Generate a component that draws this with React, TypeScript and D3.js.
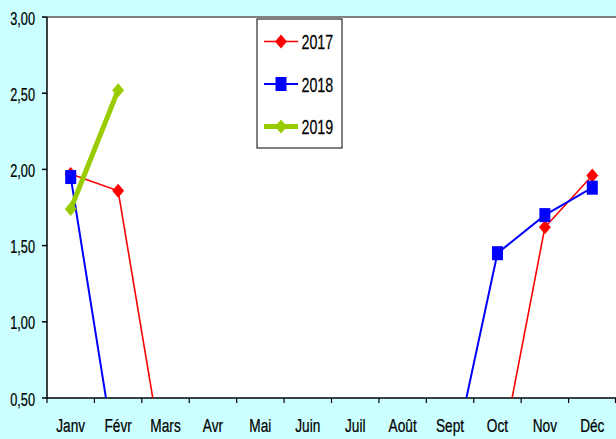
import React from "react";
import * as d3 from "d3";

const months = ["Janv", "Févr", "Mars", "Avr", "Mai", "Juin", "Juil", "Août", "Sept", "Oct", "Nov", "Déc"];
const y2017: (number | null)[] = [1.97, 1.86, 0, 0, 0, 0, 0, 0, 0, 0, 1.62, 1.96];
const y2018: (number | null)[] = [1.95, 0, 0, 0, 0, 0, 0, 0, 0, 1.45, 1.7, 1.88];
const y2019: (number | null)[] = [1.74, 2.52, null, null, null, null, null, null, null, null, null, null];
const yTicks = [0.5, 1.0, 1.5, 2.0, 2.5, 3.0];
const seriesNames = ["2017", "2018", "2019"];

const W = 616, H = 439;
const left = 47, right = 616, top = 17, bottom = 398;
const FONT = "'Liberation Sans', Arial, sans-serif";

const NText = ({ x, y, size, sx, anchor, children }: any) => (
  <text
    transform={`translate(${x},${y}) scale(${sx},1)`}
    textAnchor={anchor}
    fontFamily={FONT}
    fontSize={size}
    fill="#000"
    stroke="#000"
    strokeWidth={0.25}
  >
    {children}
  </text>
);

export default function App() {
  const x = d3.scaleBand<string>().domain(months).range([left, right]).padding(0);
  const y = d3.scaleLinear().domain([0.5, 3]).range([bottom, top]);
  const cx = (i: number) => (x(months[i]) as number) + x.bandwidth() / 2;

  const line = d3
    .line<number | null>()
    .defined((d) => d !== null)
    .x((_, i) => cx(i))
    .y((d) => y(d as number));

  const series = [
    { name: seriesNames[0], data: y2017, color: "#ff0000", width: 1.6, marker: "diamond" },
    { name: seriesNames[1], data: y2018, color: "#0000ff", width: 2, marker: "square" },
    { name: seriesNames[2], data: y2019, color: "#99cc00", width: 5, marker: "diamond2" },
  ];

  const marker = (type: string, px: number, py: number, color: string, key: string | number) => {
    if (type === "square") {
      return <rect key={key} x={px - 5.5} y={py - 7} width={11} height={14} fill={color} />;
    }
    const r = 7;
    return (
      <path
        key={key}
        d={`M${px},${py - r} L${px + r * 0.85},${py} L${px},${py + r} L${px - r * 0.85},${py} Z`}
        fill={color}
      />
    );
  };

  const legendY = [41.5, 84, 126.5];

  return (
    <svg width={W} height={H} style={{ position: "absolute", left: 0, top: 0 }}>
      <rect x={0} y={0} width={W} height={H} fill="#ccffff" />
      <defs>
        <clipPath id="plotclip">
          <rect x={left} y={top - 10} width={right - left} height={bottom - top + 10} />
        </clipPath>
      </defs>
      <rect x={left} y={top} width={right - left} height={bottom - top} fill="#ffffff" />
      <line x1={left} x2={right} y1={top} y2={top} stroke="#808080" strokeWidth={2} />

      {/* y axis */}
      <line x1={left} x2={left} y1={top} y2={bottom} stroke="#000" strokeWidth={1.5} />
      {yTicks.map((t) => (
        <g key={t}>
          <line x1={left - 5} x2={left} y1={y(t)} y2={y(t)} stroke="#000" strokeWidth={1.5} />
          <NText x={35} y={y(t) + 7.5} size={19} sx={0.67} anchor="end">
            {t.toFixed(2).replace(".", ",")}
          </NText>
        </g>
      ))}

      {/* x axis */}
      <line x1={left} x2={right} y1={bottom} y2={bottom} stroke="#000" strokeWidth={1.5} />
      {months.map((m, i) => (
        <g key={m}>
          <line
            x1={x(m) as number}
            x2={x(m) as number}
            y1={bottom}
            y2={bottom + 5}
            stroke="#000"
            strokeWidth={1.2}
          />
          <NText x={cx(i)} y={431.5} size={19} sx={0.72} anchor="middle">
            {m}
          </NText>
        </g>
      ))}
      <line x1={right - 0.5} x2={right - 0.5} y1={bottom} y2={bottom + 5} stroke="#000" strokeWidth={1.2} />

      {/* series */}
      <g clipPath="url(#plotclip)">
        {series.map((s) => (
          <g key={s.name}>
            <path d={line(s.data) || ""} fill="none" stroke={s.color} strokeWidth={s.width} />
            {s.data.map((d, i) => (d === null || d === 0 ? null : marker(s.marker, cx(i), y(d), s.color, i)))}
          </g>
        ))}
      </g>

      {/* legend */}
      <rect x={257} y={19} width={85} height={129} fill="#fff" stroke="#000" strokeWidth={1} />
      {series.map((s, i) => (
        <g key={s.name}>
          <line x1={264} x2={298} y1={legendY[i]} y2={legendY[i]} stroke={s.color} strokeWidth={s.width} />
          {marker(s.marker, 281, legendY[i], s.color, "m" + i)}
          <NText x={301.5} y={legendY[i] + 7.7} size={21} sx={0.68} anchor="start">
            {s.name}
          </NText>
        </g>
      ))}
    </svg>
  );
}
